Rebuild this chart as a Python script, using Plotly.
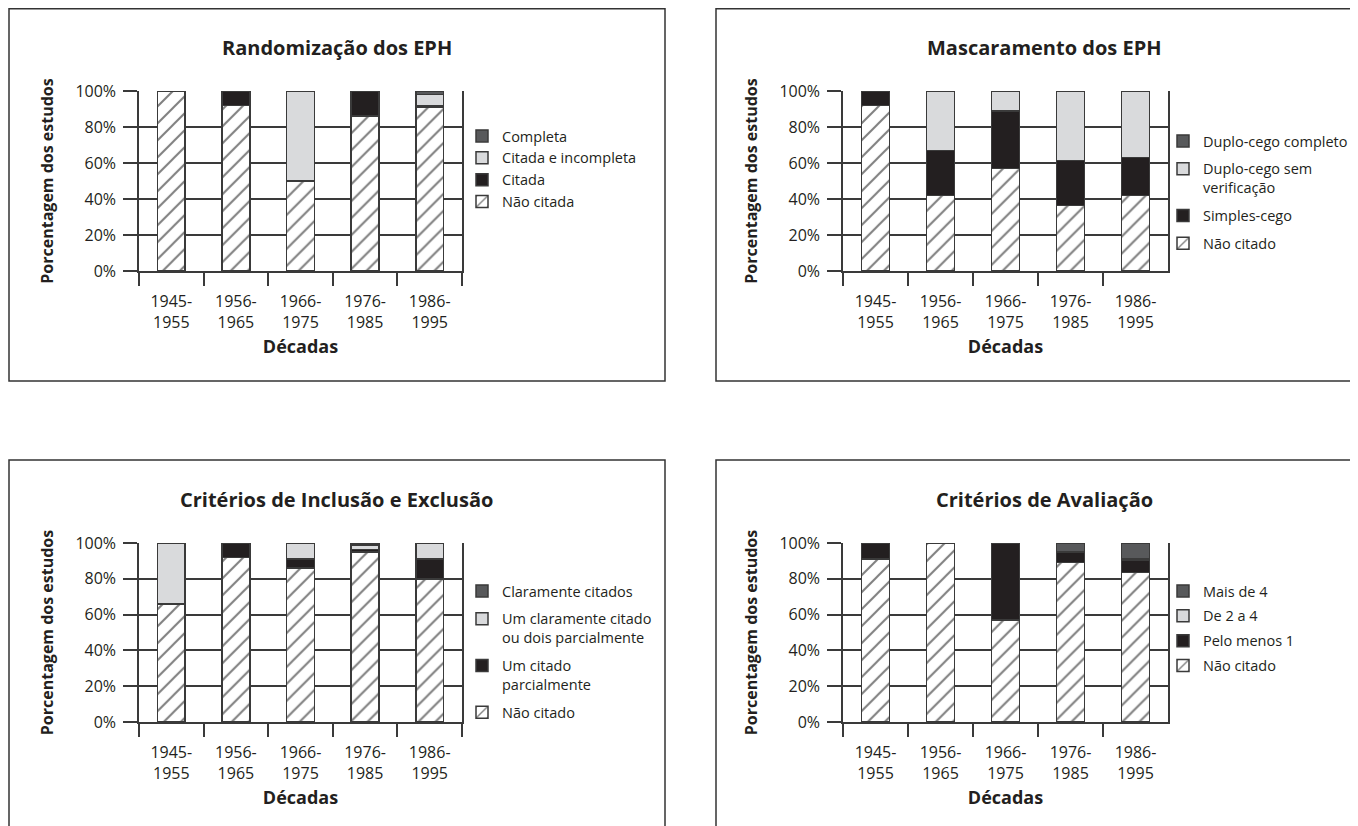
import plotly.graph_objects as go

W, H = 1358, 826

decadas = ["1945-<br>1955", "1956-<br>1965", "1966-<br>1975", "1976-<br>1985", "1986-<br>1995"]
y_ticks = [0, 20, 40, 60, 80, 100]
y_tick_labels = ["0%", "20%", "40%", "60%", "80%", "100%"]

# Randomização dos EPH
rand_nao_citada = [100, 92, 50, 86, 91]
rand_citada = [0, 8, 0, 14, 1]
rand_citada_incompleta = [0, 0, 50, 0, 6]
rand_completa = [0, 0, 0, 0, 2]

# Mascaramento dos EPH
masc_nao_citado = [92, 42, 57, 36.5, 42]
masc_simples_cego = [8, 25, 32, 25, 21]
masc_duplo_sem_verif = [0, 33, 11, 38.5, 37]
masc_duplo_completo = [0, 0, 0, 0, 0]

# Critérios de Inclusão e Exclusão
incl_nao_citado = [66, 92, 86, 95, 80]
incl_um_parcial = [0, 8, 5, 1.5, 11]
incl_um_claro_dois_parc = [34, 0, 9, 2.5, 9]
incl_claramente = [0, 0, 0, 1, 0]

# Critérios de Avaliação
aval_nao_citado = [91, 100, 57, 89, 83.5]
aval_pelo_menos_1 = [9, 0, 43, 6, 7]
aval_2_a_4 = [0, 0, 0, 0, 0.5]
aval_mais_de_4 = [0, 0, 0, 5, 9]

FONT = "Open Sans"
INK = "#231f20"
EDGE = "#3a3a3a"
C_DARK = "#58595b"
C_LIGHT = "#d9dadc"
C_BLACK = "#231f20"

OFF = 8  # page offset of the figure inside the browser window


def px_x(v):
    return (v - OFF) / W


def px_y(v):
    return 1 - (v - OFF) / H


panels = [
    dict(title="Randomização dos EPH", xd=(139, 462), yd=(91, 271), fx=336.5, legend="legend",
         series=[("Não citada", rand_nao_citada, None),
                 ("Citada", rand_citada, C_BLACK),
                 ("Citada e incompleta", rand_citada_incompleta, C_LIGHT),
                 ("Completa", rand_completa, C_DARK)]),
    dict(title="Mascaramento dos EPH", xd=(843, 1168), yd=(91, 271), fx=1044, legend="legend2",
         series=[("Não citado", masc_nao_citado, None),
                 ("Simples-cego", masc_simples_cego, C_BLACK),
                 ("Duplo-cego sem<br>verificação", masc_duplo_sem_verif, C_LIGHT),
                 ("Duplo-cego completo", masc_duplo_completo, C_DARK)]),
    dict(title="Critérios de Inclusão e Exclusão", xd=(139, 462), yd=(543, 722), fx=336.5, legend="legend3",
         series=[("Não citado", incl_nao_citado, None),
                 ("Um citado<br>parcialmente", incl_um_parcial, C_BLACK),
                 ("Um claramente citado<br>ou dois parcialmente", incl_um_claro_dois_parc, C_LIGHT),
                 ("Claramente citados", incl_claramente, C_DARK)]),
    dict(title="Critérios de Avaliação", xd=(843, 1168), yd=(543, 722), fx=1044, legend="legend4",
         series=[("Não citado", aval_nao_citado, None),
                 ("Pelo menos 1", aval_pelo_menos_1, C_BLACK),
                 ("De 2 a 4", aval_2_a_4, C_LIGHT),
                 ("Mais de 4", aval_mais_de_4, C_DARK)]),
]

fig = go.Figure()
layout = dict(
    width=W, height=H, autosize=False,
    margin=dict(l=0, r=0, t=0, b=0, pad=0),
    paper_bgcolor="white", plot_bgcolor="white",
    barmode="stack", bargap=0.57,
    font=dict(family=FONT, color=INK, size=14),
    shapes=[], annotations=[],
)

for i, p in enumerate(panels):
    k = "" if i == 0 else str(i + 1)
    xa, ya = "x" + k, "y" + k
    n = len(p["series"])
    for j, (name, vals, color) in enumerate(p["series"]):
        if color is None:
            marker = dict(color="white", line=dict(color=EDGE, width=1.5),
                          pattern=dict(shape="/", bgcolor="white", fgcolor="#000000",
                                       size=12, solidity=0.17))
        else:
            marker = dict(color=color, line=dict(color=EDGE, width=1.5))
        fig.add_trace(go.Bar(x=decadas, y=vals, name=name, marker=marker,
                             xaxis=xa, yaxis=ya, legend=p["legend"],
                             legendgroup=f"{p['legend']}_{j}", legendrank=n - j,
                             width=0.43))
    layout["xaxis" + k] = dict(
        domain=[px_x(p["xd"][0]), px_x(p["xd"][1])], anchor=ya, automargin=False,
        showline=True, linecolor=EDGE, linewidth=1.5,
        ticks="outside", tickson="boundaries", ticklen=13, tickcolor=EDGE, tickwidth=1.5,
        ticklabelstandoff=15,
        showgrid=False, tickfont=dict(size=16, color=INK),
        title=dict(text="<b>Décadas</b>", font=dict(size=18, color=INK), standoff=9),
        fixedrange=True,
    )
    layout["yaxis" + k] = dict(
        domain=[px_y(p["yd"][1]), px_y(p["yd"][0])], anchor=xa, automargin=False,
        range=[0, 100], tickvals=y_ticks, ticktext=y_tick_labels,
        showline=True, mirror=True, linecolor=EDGE, linewidth=1.5,
        ticks="outside", ticklen=14, tickcolor=EDGE, tickwidth=1.5,
        ticklabelstandoff=4,
        showgrid=True, gridcolor=EDGE, gridwidth=1.5,
        zeroline=False, tickfont=dict(size=16, color=INK),
        title=dict(text="<b>Porcentagem dos estudos</b>", font=dict(size=16, color=INK), standoff=18),
        fixedrange=True,
    )
    layout["annotations"].append(dict(
        text="<b>" + p["title"] + "</b>", x=px_x(p["fx"]), y=px_y(p["yd"][0] - 44),
        xref="paper", yref="paper", showarrow=False, xanchor="center", yanchor="middle",
        font=dict(size=20, color=INK)))

# legends
leg_common = dict(traceorder="grouped", bgcolor="rgba(0,0,0,0)",
                  font=dict(size=14.5, color=INK), valign="top", xanchor="left", yanchor="top",
                  itemclick=False, itemdoubleclick=False)
layout["legend"] = dict(leg_common, x=px_x(462), y=px_y(120), tracegroupgap=0)
layout["legend2"] = dict(leg_common, x=px_x(1163), y=px_y(125), tracegroupgap=6)
layout["legend3"] = dict(leg_common, x=px_x(462), y=px_y(575), tracegroupgap=6)
layout["legend4"] = dict(leg_common, x=px_x(1163), y=px_y(575), tracegroupgap=3)

# panel frames
for (x0, y0, x1, y1) in [(9, 8.75, 665, 381), (716, 8.75, 1380, 381), (9, 460, 665, 850), (716, 460, 1380, 850)]:
    layout["shapes"].append(dict(type="rect", xref="paper", yref="paper",
                                 x0=px_x(x0), x1=px_x(x1), y0=px_y(y1), y1=px_y(y0),
                                 line=dict(color="#333333", width=1.5), layer="below"))

fig.update_layout(**layout)
fig.write_html("out.html")
